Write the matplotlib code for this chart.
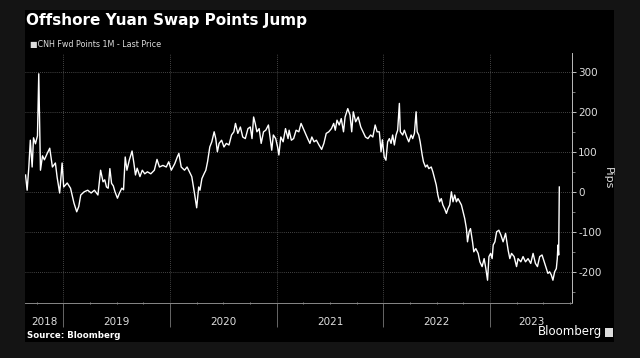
import numpy as np
import matplotlib
matplotlib.use("Agg")
import matplotlib.pyplot as plt
from matplotlib.ticker import MultipleLocator, FixedLocator
from matplotlib.patches import Rectangle

plt.rcParams['axes.unicode_minus'] = False

# ================================
# Data (decimal years, pips)
# ================================
t_year = [
    2018.645, 2018.660, 2018.676, 2018.690, 2018.707, 2018.720, 2018.738, 2018.757,
    2018.769, 2018.785, 2018.804, 2018.822, 2018.850, 2018.872, 2018.897, 2018.925,
    2018.941, 2018.965, 2018.988,
    2019.003, 2019.036, 2019.067, 2019.099, 2019.125, 2019.144, 2019.163, 2019.195,
    2019.228, 2019.260, 2019.291, 2019.324, 2019.349, 2019.372, 2019.388, 2019.404,
    2019.420, 2019.436, 2019.452, 2019.468, 2019.484, 2019.507, 2019.526, 2019.548,
    2019.564, 2019.580, 2019.596, 2019.618, 2019.644, 2019.661, 2019.676, 2019.692,
    2019.718, 2019.740, 2019.763, 2019.788, 2019.820, 2019.853, 2019.878, 2019.901,
    2019.933, 2019.965, 2019.988,
    2020.012, 2020.044, 2020.068, 2020.083, 2020.105, 2020.136, 2020.160, 2020.182,
    2020.204, 2020.229, 2020.250, 2020.269, 2020.281, 2020.299, 2020.321, 2020.336,
    2020.352, 2020.373, 2020.392, 2020.414, 2020.429, 2020.444, 2020.460, 2020.484,
    2020.506, 2020.528, 2020.553, 2020.577, 2020.599, 2020.614, 2020.636, 2020.660,
    2020.682, 2020.706, 2020.731, 2020.753, 2020.769, 2020.784, 2020.799, 2020.815,
    2020.836, 2020.855, 2020.877, 2020.898, 2020.923, 2020.938, 2020.954, 2020.969,
    2020.991,
    2021.009, 2021.021, 2021.039, 2021.061, 2021.083, 2021.107, 2021.117, 2021.138,
    2021.159, 2021.183, 2021.208, 2021.229, 2021.250, 2021.269, 2021.291, 2021.312,
    2021.330, 2021.351, 2021.373, 2021.397, 2021.422, 2021.443, 2021.465, 2021.489,
    2021.514, 2021.535, 2021.550, 2021.566, 2021.587, 2021.606, 2021.627, 2021.642,
    2021.667, 2021.688, 2021.704, 2021.719, 2021.741, 2021.765, 2021.789, 2021.810,
    2021.833, 2021.856, 2021.881, 2021.902, 2021.924, 2021.942, 2021.963, 2021.979,
    2021.992,
    2022.009, 2022.025, 2022.041, 2022.057, 2022.073, 2022.088, 2022.104, 2022.120,
    2022.135, 2022.151, 2022.160, 2022.182, 2022.198, 2022.220, 2022.239, 2022.261,
    2022.276, 2022.292, 2022.308, 2022.318, 2022.333, 2022.346, 2022.365, 2022.377,
    2022.396, 2022.412, 2022.427, 2022.450, 2022.465, 2022.481, 2022.497, 2022.512,
    2022.528, 2022.544, 2022.559, 2022.575, 2022.592, 2022.607, 2022.623, 2022.639,
    2022.654, 2022.670, 2022.686, 2022.701, 2022.717, 2022.733, 2022.748, 2022.764,
    2022.780, 2022.790, 2022.805, 2022.818, 2022.837, 2022.849, 2022.868, 2022.890,
    2022.906, 2022.927, 2022.946, 2022.962, 2022.978, 2022.991,
    2023.007, 2023.021, 2023.031, 2023.047, 2023.063, 2023.084, 2023.103, 2023.124,
    2023.147, 2023.171, 2023.187, 2023.203, 2023.227, 2023.250, 2023.264, 2023.290,
    2023.311, 2023.334, 2023.358, 2023.383, 2023.405, 2023.427, 2023.446, 2023.467,
    2023.489, 2023.514, 2023.530, 2023.544, 2023.560, 2023.576, 2023.591, 2023.607,
    2023.623, 2023.632, 2023.638, 2023.645, 2023.651,
]
pips = [
    42, 4, 62, 129, 62, 135, 120, 140,
    295, 54, 90, 80, 97, 109, 62, 72,
    37, -3, 72,
    12, 22, 9, -28, -50, -37, -8, 0,
    4, -3, 4, -8, 54, 25, 30, 12,
    9, 58, 21, 15, 0, -16, -3, 9,
    5, 87, 54, 79, 102, 72, 42, 59,
    38, 54, 45, 50, 45, 54, 81, 62,
    66, 62, 75,
    54, 70, 87, 96, 62, 54, 62, 50,
    38, -3, -40, 12, 4, 33, 46, 54,
    75, 112, 125, 150, 133, 100, 121, 129,
    112, 121, 117, 142, 150, 171, 146, 162,
    137, 133, 158, 162, 133, 187, 171, 150,
    158, 121, 150, 154, 167, 137, 104, 142,
    133,
    112, 92, 137, 125, 158, 133, 154, 129,
    133, 154, 150, 171, 158, 146, 133, 121,
    137, 125, 129, 117, 106, 121, 146, 150,
    158, 171, 154, 179, 167, 183, 150, 187,
    208, 192, 150, 200, 175, 187, 162, 150,
    137, 133, 142, 137, 167, 150, 150, 100,
    130,
    87, 79, 125, 133, 121, 142, 117, 142,
    154, 221, 150, 142, 154, 137, 125, 142,
    133, 146, 200, 150, 142, 125, 92, 75,
    62, 67, 58, 62, 50, 33, 17, -8,
    -25, -17, -33, -42, -54, -42, -33, 0,
    -25, -8, -25, -17, -25, -33, -50, -67,
    -92, -125, -100, -92, -125, -150, -142, -154,
    -175, -187, -167, -192, -221, -162,
    -154, -167, -133, -125, -100, -96, -108, -125,
    -104, -146, -167, -154, -162, -187, -167, -175,
    -162, -175, -167, -179, -154, -179, -187, -162,
    -158, -179, -192, -204, -200, -208, -221, -200,
    -192, -167, -133, -158, 12,
]
year_labels = ["2018", "2019", "2020", "2021", "2022", "2023"]
y_ticks = [-200, -100, 0, 100, 200, 300]

x_lo, x_hi = 2018.64, 2023.77

# ================================
# Figure and panels
# ================================
fig = plt.figure(figsize=(6.4, 3.58), dpi=100)
fig.patch.set_facecolor("#141414")
fig.patches.append(Rectangle((25 / 640, 1 - 342 / 358), 589 / 640, 332 / 358,
                             transform=fig.transFigure, facecolor="black",
                             edgecolor="none", zorder=-10))

ax = fig.add_axes([25 / 640, 1 - 303 / 358, 547 / 640, 250 / 358])
ax.set_facecolor("black")
ax.plot(t_year, pips, color="white", lw=1.0, zorder=3)

ax.set_xlim(x_lo, x_hi)
ax.set_ylim(-278, 347)

# y axis on the right
ax.yaxis.tick_right()
ax.yaxis.set_label_position("right")
ax.yaxis.set_major_locator(FixedLocator(y_ticks))
ax.yaxis.set_minor_locator(MultipleLocator(50))
ax.tick_params(axis="y", which="major", colors="#dddddd", labelsize=7.5,
               length=3, width=0.6, pad=1.5)
ax.tick_params(axis="y", which="minor", colors="#aaaaaa", length=2, width=0.5)
ax.set_ylabel("Pips", color="#dddddd", fontsize=8, rotation=270, labelpad=8)
ax.grid(axis="y", which="major", color="#5a5a5a", ls=(0, (1, 1.5)), lw=0.6)

# x axis: year separators, quarterly minor ticks
years = np.arange(2019, 2024)
ax.xaxis.set_major_locator(FixedLocator(years))
ax.xaxis.set_minor_locator(MultipleLocator(0.25))
ax.tick_params(axis="x", which="major", colors="#777777", length=17, width=0.6,
               labelbottom=False)
ax.tick_params(axis="x", which="minor", colors="#999999", length=2,
               direction="inout", width=0.6)
for yr in years:
    ax.axvline(yr, color="#5a5a5a", ls=(0, (1, 1.5)), lw=0.6, zorder=1)

bounds = [x_lo] + list(years) + [x_hi]
for lab, a, b in zip(year_labels, bounds[:-1], bounds[1:]):
    ax.text((a + b) / 2, -0.076, lab, transform=ax.get_xaxis_transform(),
            ha="center", va="center", color="#dddddd", fontsize=7.5)

for side in ["left", "top"]:
    ax.spines[side].set_visible(False)
ax.spines["right"].set_color("#bbbbbb")
ax.spines["right"].set_linewidth(0.7)
ax.spines["bottom"].set_color("#888888")
ax.spines["bottom"].set_linewidth(0.7)

# ================================
# Texts
# ================================
fig.text(26 / 640, 1 - 20 / 358, "Offshore Yuan Swap Points Jump", color="white",
         fontsize=11, fontweight="bold", ha="left", va="center")
fig.text(30 / 640, 1 - 44 / 358, "\u25a0CNH Fwd Points 1M - Last Price",
         color="#dddddd", fontsize=5.8, ha="left", va="center")
fig.text(27 / 640, 1 - 335 / 358, "Source: Bloomberg", color="white",
         fontsize=6.2, fontweight="bold", ha="left", va="center")
fig.text(602 / 640, 1 - 332 / 358, "Bloomberg", color="white",
         fontsize=8.5, ha="right", va="center")
fig.patches.append(Rectangle((605 / 640, 1 - 337 / 358), 8 / 640, 9 / 358,
                             transform=fig.transFigure, facecolor="#dddddd",
                             edgecolor="none", zorder=2))

fig.savefig("out.png", dpi=100, facecolor=fig.get_facecolor())
